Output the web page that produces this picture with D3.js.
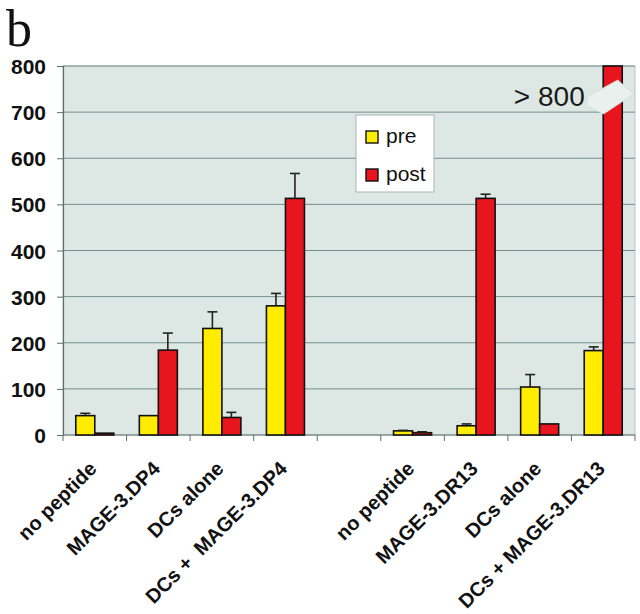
<!DOCTYPE html>
<html><head><meta charset="utf-8">
<script src="https://cdn.jsdelivr.net/npm/d3@7"></script>
<style>
html,body{margin:0;padding:0;background:#fff;}
svg{display:block;}
</style></head>
<body>
<svg id="chart" width="640" height="614"></svg>
<script>
// ---- data ----
const categories = ["no peptide","MAGE-3.DP4","DCs alone","DCs +  MAGE-3.DP4","","no peptide","MAGE-3.DR13","DCs alone","DCs + MAGE-3.DR13"];
const preValues  = [42, 42, 231, 280, null, 9, 20, 104, 183];
const preErrTop  = [47, 42, 267, 307, null, 10, 24, 131, 191];
const postValues = [4, 184, 38, 513, null, 5, 513, 24, 800];
const postErrTop = [4, 221, 49, 567, null, 7, 522, 24, 800];
const seriesNames = ["pre","post"];
const yTicks = [0,100,200,300,400,500,600,700,800];
const panelLetter = "b";
const overflowLabel = "> 800";

// ---- layout ----
const svg = d3.select("#chart");
const pLeft = 63, pRight = 635, pTop = 66, pBottom = 435;
const colors = {pre:"#ffec00", post:"#e8141e"};
const bg = "#dde7e3", grid = "#738f8d";
const sans = "Liberation Sans, Arial, Helvetica, sans-serif";

const x = d3.scaleBand().domain(d3.range(categories.length)).range([pLeft, pRight]).paddingInner(0).paddingOuter(0);
const groupW = 38;
const xs = d3.scaleBand().domain(seriesNames).range([0, groupW]);
const y = d3.scaleLinear().domain([0, 800]).range([pBottom, pTop]);

// plot background
svg.append("rect").attr("x", pLeft).attr("y", pTop).attr("width", pRight-pLeft).attr("height", pBottom-pTop)
  .attr("fill", bg).attr("stroke", "#b9c6c3").attr("stroke-width", 1);

// gridlines
svg.append("g").selectAll("line").data(yTicks.filter(d=>d>0)).join("line")
  .attr("x1", pLeft).attr("x2", pRight).attr("y1", d=>y(d)).attr("y2", d=>y(d))
  .attr("stroke", grid).attr("stroke-width", 1);

// y axis
const yAxis = d3.axisLeft(y).tickValues(yTicks).tickSize(6).tickPadding(11).tickFormat(d3.format("d"));
const gy = svg.append("g").attr("transform", `translate(${pLeft},0)`).call(yAxis);
gy.select(".domain").attr("stroke", "#5d6e6c").attr("stroke-width", 1.2);
gy.selectAll(".tick line").attr("stroke", "#5d6e6c");
gy.selectAll(".tick text").attr("font-family", sans)
  .attr("font-size", 21).attr("font-weight", "bold").attr("fill", "#111").attr("dy", "0.36em");

// x axis line + ticks at band boundaries
svg.append("line").attr("x1", pLeft).attr("x2", pRight).attr("y1", pBottom).attr("y2", pBottom)
  .attr("stroke", "#5d6e6c").attr("stroke-width", 1.2);
const boundaries = d3.range(categories.length + 1).map(i => pLeft + i * x.bandwidth());
svg.append("g").selectAll("line").data(boundaries).join("line")
  .attr("x1", d=>d).attr("x2", d=>d).attr("y1", pBottom).attr("y2", pBottom + 6)
  .attr("stroke", "#5d6e6c").attr("stroke-width", 1);

// bars
const rows = categories.map((c, i) => ({i, c, pre: preValues[i], preErr: preErrTop[i], post: postValues[i], postErr: postErrTop[i]}));
const off = (x.bandwidth() - groupW) / 2;
const barData = [];
rows.forEach(r => {
  seriesNames.forEach(s => {
    if (r[s] != null) barData.push({i: r.i, s, v: r[s], e: r[s + "Err"]});
  });
});

const gBars = svg.append("g");
gBars.selectAll("rect").data(barData).join("rect")
  .attr("x", d => x(d.i) + off + xs(d.s))
  .attr("y", d => y(d.v))
  .attr("width", xs.bandwidth())
  .attr("height", d => y(0) - y(d.v))
  .attr("fill", d => colors[d.s])
  .attr("stroke", "#111").attr("stroke-width", 1.6);

// error bars (upper only)
const errData = barData.filter(d => d.e != null && d.e > d.v);
const gErr = svg.append("g").attr("stroke", "#222").attr("stroke-width", 1.6);
errData.forEach(d => {
  const cx = x(d.i) + off + xs(d.s) + xs.bandwidth() / 2;
  gErr.append("line").attr("x1", cx).attr("x2", cx).attr("y1", y(d.v)).attr("y2", y(d.e));
  gErr.append("line").attr("x1", cx - 5).attr("x2", cx + 5).attr("y1", y(d.e)).attr("y2", y(d.e));
});

// axis break on the overflowing bar
const last = barData.find(d => d.i === 8 && d.s === "post");
const bcx = x(last.i) + off + xs(last.s) + xs.bandwidth() / 2;
const bcy = y(735);
const brk = [[-26, 1], [5, -16], [21, -2], [-9, 18], [-26, 10]];
svg.append("polygon").attr("points", brk.map(p => [bcx + p[0], bcy + p[1]].join(",")).join(" "))
  .attr("fill", "#eaf0ed").attr("stroke", "#d0dad6").attr("stroke-width", 0.8);
svg.append("text").attr("x", bcx - 28).attr("y", bcy + 10).attr("text-anchor", "end")
  .attr("font-family", sans).attr("font-size", 28).attr("fill", "#1a1a1a")
  .text(overflowLabel);

// x labels
svg.append("g").selectAll("text").data(rows.filter(r => r.c !== "")).join("text")
  .attr("transform", r => `translate(${x(r.i) + x.bandwidth()/2 + 3},${pBottom + 35}) rotate(-45)`)
  .attr("text-anchor", "end")
  .attr("font-family", sans)
  .attr("font-size", 20).attr("font-weight", "bold").attr("fill", "#111")
  .style("white-space", "pre")
  .text(r => r.c);

// legend
const lg = svg.append("g").attr("transform", "translate(356,115)");
lg.append("rect").attr("width", 78).attr("height", 77).attr("fill", "#fff").attr("stroke", "#a9b5b2").attr("stroke-width", 1);
seriesNames.forEach((s, k) => {
  const yy = 16 + k * 38;
  lg.append("rect").attr("x", 10).attr("y", yy).attr("width", 12).attr("height", 12)
    .attr("fill", colors[s]).attr("stroke", "#111").attr("stroke-width", 1.4);
  lg.append("text").attr("x", 30).attr("y", yy + 12).attr("font-family", sans)
    .attr("font-size", 21).attr("fill", "#111").text(s);
});

// panel letter
svg.append("text").attr("x", 6).attr("y", 46).attr("font-family", "Liberation Serif, Times New Roman, serif")
  .attr("font-size", 52).attr("fill", "#111").text(panelLetter);
</script>
</body></html>
